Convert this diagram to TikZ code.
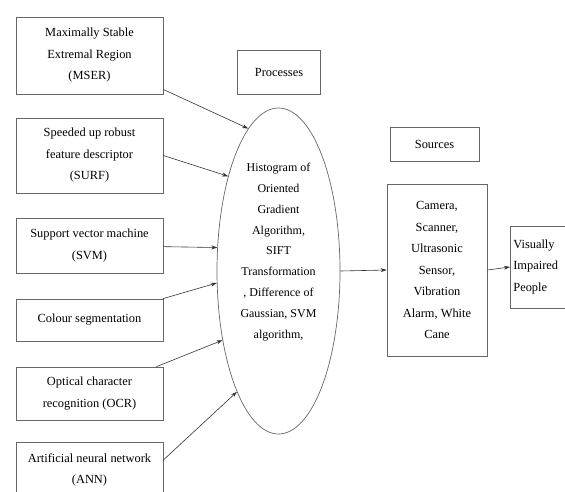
\documentclass[tikz,border=0pt]{standalone}
\usepackage{fontspec}
\setmainfont{Liberation Serif}
\usetikzlibrary{shapes.geometric,arrows.meta}

\begin{document}
\begin{tikzpicture}[x=1pt,y=-1pt,
        box/.style={draw=black!60,line width=0.7pt,align=center,inner sep=2pt,
                    font=\fontsize{12.4}{21.5}\selectfont},
        flow/.style={draw=black!80,line width=0.6pt,-{Stealth[length=6pt,width=4pt]}}]
        \useasboundingbox (0,0) rectangle (565,491);

        \begin{scope}[every node/.style={box,minimum width=147pt}]
            \node (mser) at (89.5,55.5) [minimum height=77pt]
                {Maximally Stable\\Extremal Region\\(MSER)};
            \node (surf) at (89.5,155.5) [minimum height=75pt]
                {Speeded up robust\\feature descriptor\\(SURF)};
            \node (svm) at (89.5,245.5) [minimum height=55pt]
                {Support vector machine\\(SVM)};
            \node (colour) at (89.5,320) [minimum height=42pt]
                {Colour segmentation};
            \node (ocr) at (89.5,393.5) [minimum height=53pt]
                {Optical character\\recognition (OCR)};
            \node (ann) at (89.5,470) [minimum height=56pt]
                {Artificial neural network\\(ANN)};
        \end{scope}

        \node (proc) at (279,72) [box,minimum width=83pt,minimum height=44pt] {Processes};
        \node (ell) at (278.5,271) [ellipse,draw=black!60,line width=0.7pt,inner sep=0pt,
                minimum width=123pt,minimum height=326pt] {};
        \node (algo) at ([yshift=19pt]ell.center) [align=center,
                font=\fontsize{12}{20.9}\selectfont]
                {Histogram of\\Oriented\\Gradient\\Algorithm,\\SIFT\\Transformation\\, Difference of\\Gaussian, SVM\\algorithm,};

        \node (src) at (434.5,144) [box,minimum width=89pt,minimum height=34pt] {Sources};
        \node (dev) at (437,270) [box,minimum width=100pt,minimum height=172pt]
                {Camera,\\Scanner,\\Ultrasonic\\Sensor,\\Vibration\\Alarm, White\\Cane};
        \node (vip) at (510,267) [box,anchor=west,align=left,text width=84pt,
                inner xsep=3pt,minimum height=82pt]
                {Visually\\Impaired\\People};

        \path (mser) edge[flow] (ell.102);
        \path (surf.east) edge[flow] (ell.118);
        \path (svm) edge[flow] (ell.159);
        \path (colour) edge[flow] (ell.191);
        \path (ocr) edge[flow] (ell.231);
        \path ([yshift=10pt]ann.east) edge[flow] (ell.251);
        \path (ell.east) edge[flow] (dev.west);
        \path (dev.east) edge[flow] (vip.west);
    \end{tikzpicture}
\end{document}
